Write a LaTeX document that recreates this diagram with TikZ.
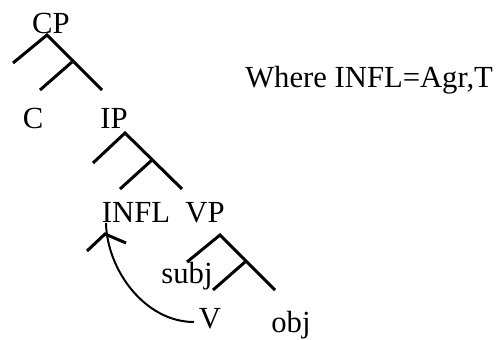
\documentclass[tikz,border=0pt]{standalone}
\usepackage{fontspec}
\setmainfont{Liberation Serif}
\begin{document}
\begin{tikzpicture}[x=0.75pt,y=-0.75pt,
  lbl/.style={anchor=base,inner sep=0pt,font=\fontsize{23}{27}\selectfont},
  branch/.style={line width=2.25pt},
  movearc/.style={line width=1.5pt}]
\useasboundingbox (0,0) rectangle (502,339);
% labels
\node[lbl] (CP) at (51,33) {CP};
\node[lbl] (C) at (33,128) {C};
\node[lbl] (IP) at (114,128) {IP};
\node[lbl] (INFL) at (136,222) {INFL};
\node[lbl] (VP) at (205,222) {VP};
\node[lbl] (subj) at (187,283) {subj};
\node[lbl] (V) at (210,328) {V};
\node[lbl] (obj) at (291,332) {obj};
\node[lbl,anchor=base west] (note) at (245,87) {Where INFL=Agr,T};
% CP tree
\coordinate (cpA) at (47,35);
\coordinate (cpL) at (13,63);
\coordinate (cpR) at (102,90);
\coordinate (cpM) at (72,62);
\coordinate (cpML) at (40,90);
\draw[branch] (cpL) -- (cpA) -- (cpR);
\draw[branch] (cpM) -- (cpML);
% IP tree
\coordinate (ipA) at (125,133);
\coordinate (ipL) at (93,163);
\coordinate (ipR) at (182,189);
\coordinate (ipM) at (152,160);
\coordinate (ipML) at (120,189);
\draw[branch] (ipL) -- (ipA) -- (ipR);
\draw[branch] (ipM) -- (ipML);
% VP tree
\coordinate (vpA) at (220,235);
\coordinate (vpL) at (187,262);
\coordinate (vpR) at (275,290);
\coordinate (vpM) at (245,262);
\coordinate (vpML) at (213,290);
\draw[branch] (vpL) -- (vpA) -- (vpR);
\draw[branch] (vpM) -- (vpML);
% small tree under INFL
\coordinate (inA) at (105,234);
\coordinate (inL) at (87,251);
\coordinate (inR) at (126,243);
\draw[branch] (inL) -- (inA) -- (inR);
% movement curve
\coordinate (vStart) at (194,322);
\coordinate (mvEnd) at (106,223);
\draw[movearc] (vStart) .. controls (145,322) and (107,270) .. (mvEnd);
\end{tikzpicture}
\end{document}
